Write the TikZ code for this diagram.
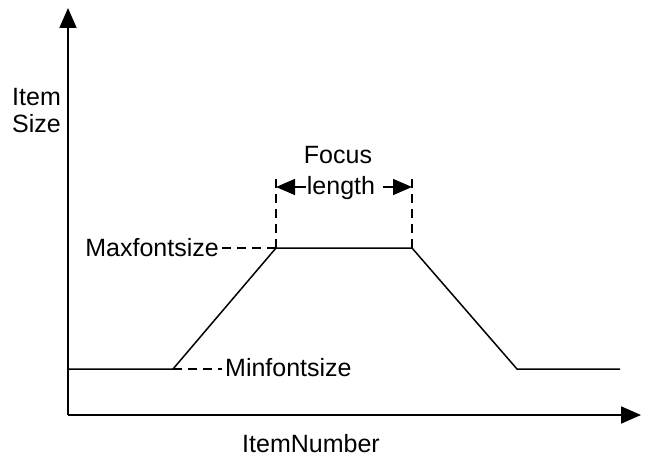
\documentclass[tikz,border=0pt]{standalone}
\usepackage{fontspec}
\setmainfont{Liberation Sans}
\usetikzlibrary{arrows.meta}

\begin{document}
\begin{tikzpicture}[
  x=1pt, y=-1pt,
  font=\fontsize{25}{27}\selectfont,
  every node/.style={inner sep=0pt},
  axis/.style={line width=1.8pt, -{Triangle[length=20pt,width=17pt]}},
  curve/.style={line width=1.5pt},
  guide/.style={line width=1.5pt, dash pattern=on 9pt off 6pt},
  span/.style={line width=1.5pt, -{Triangle[length=19pt,width=16pt]}}]
  \useasboundingbox (0,0) rectangle (647,460);

  \coordinate (o) at (68,415);
  \coordinate (ytop) at (68,8);
  \coordinate (xend) at (641,415);
  \draw[axis] (o) -- (ytop);
  \draw[axis] (o) -- (xend);

  % size curve
  \coordinate (a) at (68,369);
  \coordinate (b) at (173,369);
  \coordinate (c) at (276,248);
  \coordinate (d) at (412,248);
  \coordinate (e) at (517,369);
  \coordinate (f) at (620,369);
  \draw[curve] (a) -- (b) -- (c) -- (d) -- (e) -- (f);

  % labels
  \node[anchor=base west] (item) at (12,105) {Item};
  \node[anchor=base west] (size) at (12,132) {Size};
  \node[anchor=base] (num) at (311,452) {ItemNumber};
  \node[anchor=base east] (max) at (219,256) {Maxfontsize};
  \node[anchor=base west] (min) at (225,376) {Minfontsize};
  \node[anchor=base] (focus) at (338,163) {Focus};
  \node[anchor=base] (len) at (341,194) {length};

  % guides
  \coordinate (cup) at (276,174);
  \coordinate (dup) at (412,174);
  \coordinate (mx) at (222,248);
  \coordinate (mn) at (222,369);
  \draw[guide] (c) -- (cup);
  \draw[guide] (d) -- (dup);
  \draw[guide] (mx) -- (c);
  \draw[guide] (b) -- (mn);

  % focus length arrows
  \coordinate (ll) at (276,187);
  \coordinate (rr) at (412,187);
  \draw[span] (len.west |- ll) ++(-1,0) -- (ll);
  \draw[span] (383,187) -- (rr);
\end{tikzpicture}
\end{document}
